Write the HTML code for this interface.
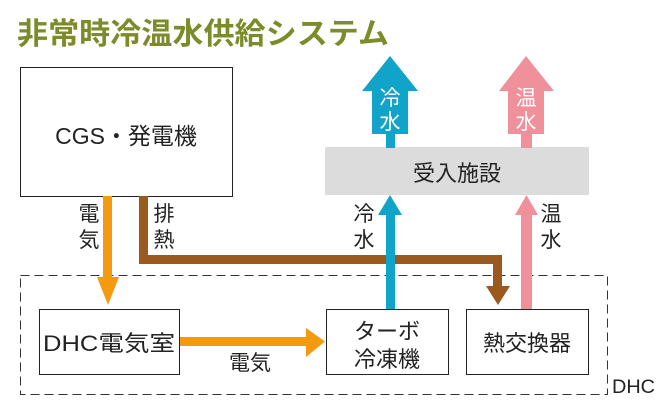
<!DOCTYPE html>
<html><head><meta charset="utf-8"><style>
body{margin:0;background:#fff;}
svg text{font-family:"Liberation Sans","Noto Sans CJK JP",sans-serif;}
</style></head><body>
<svg width="661" height="406" viewBox="0 0 661 406" xmlns="http://www.w3.org/2000/svg">
<text x="17" y="44" font-size="30" font-weight="bold" fill="#7c8c2a" textLength="372" lengthAdjust="spacingAndGlyphs">非常時冷温水供給システム</text>
<rect x="20.5" y="67.5" width="212" height="129" fill="#fff" stroke="#222" stroke-width="1"/>
<text x="126" y="144" font-size="23" text-anchor="middle" fill="#222">CGS・発電機</text>
<rect x="325" y="147" width="264" height="48" fill="#dcdcdc"/>
<text x="457" y="181" font-size="22" text-anchor="middle" fill="#222">受入施設</text>
<rect x="386" y="130" width="9" height="18" fill="#11a3c8"/>
<polygon points="390,56 418,91 408,91 408,134 372,134 372,91 362,91" fill="#11a3c8"/>
<text x="390" y="105" font-size="21" text-anchor="middle" fill="#fff">冷</text>
<text x="390" y="129" font-size="21" text-anchor="middle" fill="#fff">水</text>
<rect x="521" y="130" width="11" height="18" fill="#f0909a"/>
<polygon points="526,56 554,91 544,91 544,134 508,134 508,91 499,91" fill="#f0909a"/>
<text x="526" y="105" font-size="21" text-anchor="middle" fill="#fff">温</text>
<text x="526" y="129" font-size="21" text-anchor="middle" fill="#fff">水</text>
<rect x="20.5" y="275.5" width="587" height="119" fill="none" stroke="#333" stroke-width="1" stroke-dasharray="9,5"/>
<text x="612" y="393" font-size="19" fill="#222" textLength="43" lengthAdjust="spacingAndGlyphs">DHC</text>
<rect x="103" y="196" width="9" height="82" fill="#f39a10"/>
<polygon points="97,277 119,277 108,305" fill="#f39a10"/>
<text x="89" y="221" font-size="21" text-anchor="middle" fill="#222">電</text>
<text x="89" y="247" font-size="21" text-anchor="middle" fill="#222">気</text>
<polyline points="143.5,196 143.5,259.5 497.5,259.5 497.5,288" fill="none" stroke="#9a5a1e" stroke-width="9"/>
<polygon points="486,286 510,286 498,305" fill="#9a5a1e"/>
<text x="164" y="221" font-size="21" text-anchor="middle" fill="#222">排</text>
<text x="164" y="247" font-size="21" text-anchor="middle" fill="#222">熱</text>
<rect x="386" y="212" width="9" height="97" fill="#11a3c8"/>
<polygon points="378,215 402,215 390,195" fill="#11a3c8"/>
<text x="364" y="221" font-size="21" text-anchor="middle" fill="#222">冷</text>
<text x="364" y="247" font-size="21" text-anchor="middle" fill="#222">水</text>
<rect x="521" y="212" width="11" height="97" fill="#f0909a"/>
<polygon points="515,215 538,215 526.5,195" fill="#f0909a"/>
<text x="551" y="221" font-size="21" text-anchor="middle" fill="#222">温</text>
<text x="551" y="247" font-size="21" text-anchor="middle" fill="#222">水</text>
<rect x="39.5" y="309.5" width="140" height="65" fill="#fff" stroke="#222"/>
<text x="109" y="351" font-size="22" text-anchor="middle" fill="#222" textLength="132" lengthAdjust="spacingAndGlyphs">DHC電気室</text>
<rect x="326.5" y="309.5" width="122" height="65" fill="#fff" stroke="#222"/>
<text x="387" y="339" font-size="22" text-anchor="middle" fill="#222">ターボ</text>
<text x="387" y="367" font-size="22" text-anchor="middle" fill="#222">冷凍機</text>
<rect x="466.5" y="309.5" width="122" height="65" fill="#fff" stroke="#222"/>
<text x="527" y="351" font-size="22" text-anchor="middle" fill="#222">熱交換器</text>
<rect x="180" y="337" width="128" height="9" fill="#f39a10"/>
<polygon points="306,328 325,341.5 306,357" fill="#f39a10"/>
<text x="250" y="370" font-size="21" text-anchor="middle" fill="#222">電気</text>
</svg>
</body></html>
